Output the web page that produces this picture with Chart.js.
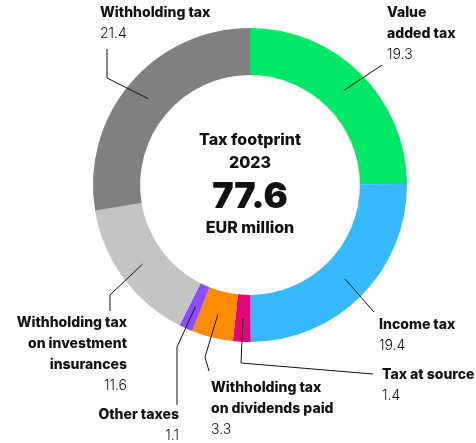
<!DOCTYPE html>
<html>
<head>
<meta charset="utf-8">
<script src="https://cdn.jsdelivr.net/npm/chart.js@4"></script>
<style>
  body { margin: 0; background: #fff; }
  #wrap { width: 476px; height: 443px; }
</style>
</head>
<body>
<div id="wrap"><canvas id="taxChart" width="476" height="443"></canvas></div>
<script>
// data, clockwise from 12 o'clock
const categories = ['Value added tax', 'Income tax', 'Tax at source', 'Withholding tax on dividends paid', 'Other taxes', 'Withholding tax on investment insurances', 'Withholding tax'];
const values = [19.3, 19.4, 1.4, 3.3, 1.1, 11.6, 21.4];
const valueLabels = ['19.3', '19.4', '1.4', '3.3', '1.1', '11.6', '21.4'];
const labelLines = [['Value', 'added tax'], ['Income tax'], ['Tax at source'], ['Withholding tax', 'on dividends paid'], ['Other taxes'], ['Withholding tax', 'on investment', 'insurances'], ['Withholding tax']];
const colors = ['#00E865', '#36B9FF', '#E0067E', '#FF8C00', '#8B4DFF', '#C4C4C4', '#808080'];

// label placement: text anchor, alignment, leader line bend points
const labelLayout = [
  { x: 387, y: 13, align: 'left', path: [[382, 65]] },
  { x: 379, y: 325, align: 'left', path: [[374, 312]] },
  { x: 382, y: 375, align: 'left', path: [[241, 363], [373, 374]] },
  { x: 211, y: 388, align: 'left', path: [[205, 357], [209, 371]] },
  { x: 179, y: 415, align: 'right', path: [[177, 347], [177, 405]] },
  { x: 127, y: 323, align: 'right', path: [[110, 295], [110, 311]] },
  { x: 100, y: 13, align: 'left', path: [[107, 78], [107, 49]] }
];

const FONT = 'Inter, "Noto Sans", sans-serif';
const LINE_H = 21;

const calloutPlugin = {
  id: 'callouts',
  afterDatasetsDraw(chart) {
    const ctx = chart.ctx;
    const arcs = chart.getDatasetMeta(0).data;
    ctx.save();
    arcs.forEach((arc, i) => {
      const p = arc.getProps(['x', 'y', 'startAngle', 'endAngle', 'innerRadius', 'outerRadius'], true);
      const a = (p.startAngle + p.endAngle) / 2;
      const r = (p.innerRadius + p.outerRadius) / 2;
      const lay = labelLayout[i];
      ctx.beginPath();
      ctx.moveTo(p.x + Math.cos(a) * r, p.y + Math.sin(a) * r);
      lay.path.forEach(pt => ctx.lineTo(pt[0], pt[1]));
      ctx.strokeStyle = '#111';
      ctx.lineWidth = 1;
      ctx.stroke();

      ctx.textAlign = lay.align;
      ctx.textBaseline = 'middle';
      ctx.fillStyle = '#111';
      ctx.font = '800 14px ' + FONT;
      labelLines[i].forEach((t, k) => ctx.fillText(t, lay.x, lay.y + k * LINE_H));
      ctx.font = '300 14px ' + FONT;
      ctx.fillText(valueLabels[i], lay.x, lay.y + labelLines[i].length * LINE_H);
    });

    // centre text
    const c = arcs[0];
    const cx = c.x, cy = c.y;
    ctx.textAlign = 'center';
    ctx.textBaseline = 'middle';
    ctx.fillStyle = '#111';
    ctx.font = '800 16px ' + FONT;
    ctx.fillText('Tax footprint', cx, cy - 45);
    ctx.fillText('2023', cx, cy - 22);
    ctx.font = '900 36px ' + FONT;
    ctx.fillText('77.6', cx, cy + 12);
    ctx.font = '800 16px ' + FONT;
    ctx.fillText('EUR million', cx, cy + 43);
    ctx.restore();
  }
};

new Chart(document.getElementById('taxChart'), {
  type: 'doughnut',
  data: {
    labels: categories,
    datasets: [{ data: values, backgroundColor: colors, borderWidth: 0, hoverOffset: 0 }]
  },
  options: {
    responsive: false,
    animation: false,
    cutout: '70%',
    layout: { padding: { top: 28, bottom: 101, left: 93, right: 69 } },
    plugins: { legend: { display: false }, tooltip: { enabled: false } }
  },
  plugins: [calloutPlugin]
});
</script>
</body>
</html>
